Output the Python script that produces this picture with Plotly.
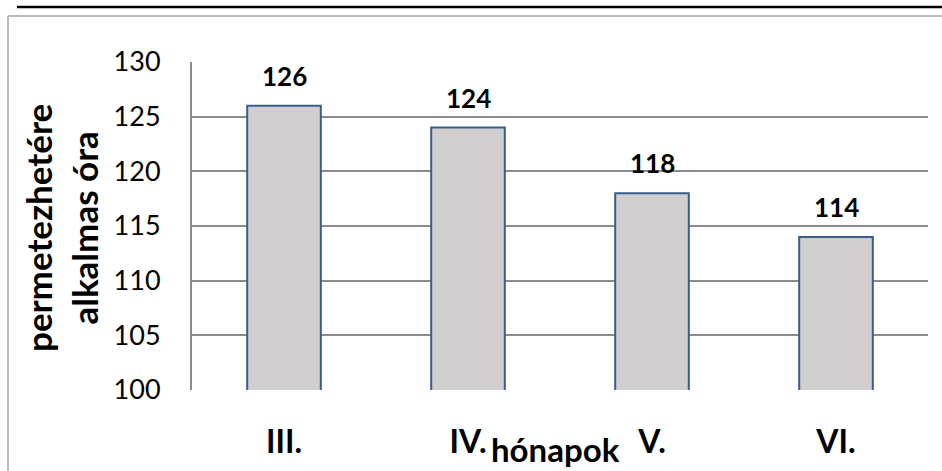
import plotly.graph_objects as go

months = ["III.", "IV.", "V.", "VI."]
hours = [126, 124, 118, 114]
y_ticks = [100, 105, 110, 115, 120, 125, 130]
x_title = "hónapok"
y_title = "permetezhetére<br>alkalmas óra"

FONT = "Lato"
GRID = "#8c8c8c"

fig = go.Figure()
fig.add_trace(go.Bar(
    x=months, y=hours,
    marker=dict(color="#d0cecf", line=dict(color="#385d8a", width=2)),
    width=0.40,
    hoverinfo="skip",
))

for m, v in zip(months, hours):
    fig.add_annotation(x=m, y=v, text=f"<b>{v}</b>", showarrow=False,
                       yanchor="middle", yshift=30,
                       font=dict(family=FONT, size=26, color="black"))

# axis titles as annotations
fig.add_annotation(x=(555 - 192) / 736, y=(390 - 449) / 328, xref="paper", yref="paper",
                   text=f"<b>{x_title}</b>", showarrow=False, yanchor="middle", xanchor="center",
                   font=dict(family=FONT, size=33, color="black"))
fig.add_annotation(x=(61 - 192) / 736, y=(390 - 228) / 328, xref="paper", yref="paper",
                   text=f"<b>{y_title}</b>", showarrow=False, textangle=-90,
                   xanchor="center", yanchor="middle",
                   font=dict(family=FONT, size=35, color="black"))

# decorative frame lines
fig.add_shape(type="line", xref="paper", yref="paper",
              x0=(17 - 192) / 736, x1=(950 - 192) / 736,
              y0=(390 - 7) / 328, y1=(390 - 7) / 328,
              line=dict(color="black", width=2.5))
fig.add_shape(type="line", xref="paper", yref="paper",
              x0=(8 - 192) / 736, x1=(950 - 192) / 736,
              y0=(390 - 16) / 328, y1=(390 - 16) / 328,
              line=dict(color="#a6a6a6", width=1.5))
fig.add_shape(type="line", xref="paper", yref="paper",
              x0=(8 - 192) / 736, x1=(8 - 192) / 736,
              y0=(390 - 16) / 328, y1=(390 - 500) / 328,
              line=dict(color="#a6a6a6", width=1.5))

fig.update_layout(
    width=942, height=471,
    margin=dict(l=192, r=14, t=62, b=81),
    paper_bgcolor="white", plot_bgcolor="white",
    showlegend=False,
    bargap=0.6,
    font=dict(family=FONT, color="black"),
)
fig.update_xaxes(
    showgrid=False, showline=False, ticks="",
    tickfont=dict(family=FONT, size=32, color="black", weight="bold"),
    ticklabelstandoff=30,
)
fig.update_yaxes(
    range=[100, 130], tickvals=y_ticks,
    showgrid=True, gridcolor=GRID, gridwidth=2,
    showline=True, linecolor=GRID, linewidth=2,
    ticks="", tickfont=dict(family=FONT, size=27, color="black"),
    ticklabelstandoff=24, zeroline=False,
)

fig.write_html("out.html", config={"displayModeBar": False},
               post_script="document.body.style.margin='0';")
